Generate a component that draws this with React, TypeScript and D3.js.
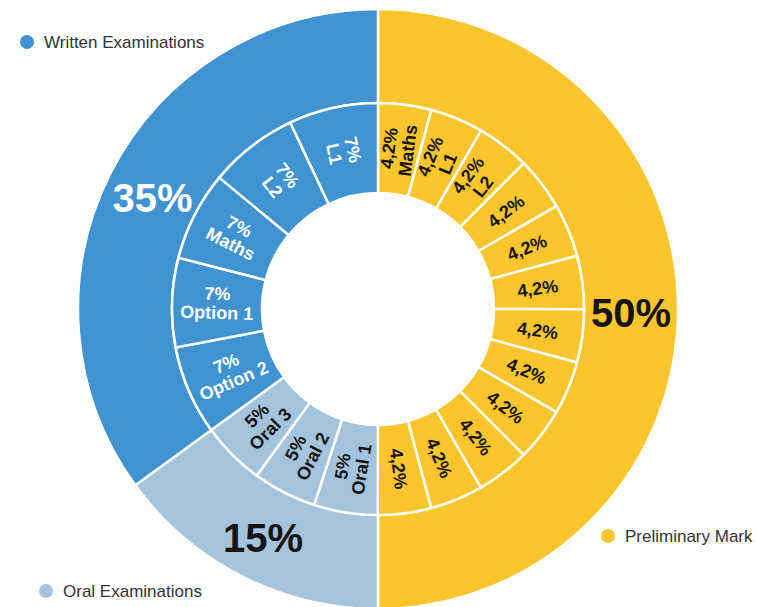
import React, { useEffect, useRef } from "react";
import * as d3 from "d3";

// outer ring: exam groups, clockwise from 12 o'clock
const groupNames = ["Preliminary Mark", "Oral Examinations", "Written Examinations"];
const groupShares = [50, 15, 35];
const groupLabels = ["50%", "15%", "35%"];
const groupColors = ["#fcc52b", "#a3c4dc", "#3f93d0"];

// inner ring: subjects, same clockwise order
const subjectGroup = [
  0, 0, 0, 0, 0, 0, 0, 0, 0, 0, 0, 0,
  1, 1, 1,
  2, 2, 2, 2, 2,
];
const subjectNames = [
  "Maths", "L1", "L2", "", "", "", "", "", "", "", "", "",
  "Oral 1", "Oral 2", "Oral 3",
  "Option 2", "Option 1", "Maths", "L2", "L1",
];
const subjectShares = [
  4.17, 4.17, 4.17, 4.17, 4.17, 4.17, 4.17, 4.17, 4.17, 4.17, 4.17, 4.17,
  5, 5, 5,
  7, 7, 7, 7, 7,
];
const subjectLabels = [
  "4,2%", "4,2%", "4,2%", "4,2%", "4,2%", "4,2%", "4,2%", "4,2%", "4,2%", "4,2%", "4,2%", "4,2%",
  "5%", "5%", "5%",
  "7%", "7%", "7%", "7%", "7%",
];

// legend placement for each group
const legendPos: [number, number][] = [
  [608, 536],
  [46, 591],
  [27, 42],
];

const W = 758;
const H = 607;
const FONT = "'Liberation Sans', Arial, sans-serif";

const App: React.FC = () => {
  const svgRef = useRef<SVGSVGElement>(null);

  useEffect(() => {
    if (!svgRef.current) return;
    const svg = d3.select(svgRef.current);
    svg.selectAll("*").remove();

    const cx = 378;
    const cy = 309;
    const r0 = 116; // hole
    const r1 = 206; // inner ring outer edge
    const r2 = 300; // outer ring outer edge

    const g = svg.append("g").attr("transform", `translate(${cx},${cy})`);

    const pie = d3.pie<number>().value((d) => d).sort(null);

    // outer ring
    const outerArc = d3.arc<d3.PieArcDatum<number>>().innerRadius(r1).outerRadius(r2);
    const outer = pie(groupShares);
    g.selectAll(".outer")
      .data(outer)
      .enter()
      .append("path")
      .attr("d", outerArc)
      .attr("fill", (_, i) => groupColors[i])
      .attr("stroke", "#fff")
      .attr("stroke-width", 2.5);

    // inner ring
    const innerArc = d3.arc<d3.PieArcDatum<number>>().innerRadius(r0).outerRadius(r1);
    const inner = pie(subjectShares);
    g.selectAll(".inner")
      .data(inner)
      .enter()
      .append("path")
      .attr("d", innerArc)
      .attr("fill", (_, i) => groupColors[subjectGroup[i]])
      .attr("stroke", "#fff")
      .attr("stroke-width", 2.5);

    // outer labels, horizontal
    const outerLabelArc = d3
      .arc<d3.PieArcDatum<number>>()
      .innerRadius((r1 + r2) / 2)
      .outerRadius((r1 + r2) / 2);
    g.selectAll(".outer-label")
      .data(outer)
      .enter()
      .append("text")
      .attr("transform", (d) => `translate(${outerLabelArc.centroid(d)})`)
      .attr("text-anchor", "middle")
      .attr("dy", "0.45em")
      .style("font-family", FONT)
      .style("font-size", "40px")
      .style("font-weight", "bold")
      .style("fill", (_, i) => (i === 2 ? "#fff" : "#151515"))
      .text((_, i) => groupLabels[i]);

    // inner labels, rotated along the radius
    const innerLabelArc = d3
      .arc<d3.PieArcDatum<number>>()
      .innerRadius((r0 + r1) / 2)
      .outerRadius((r0 + r1) / 2);
    const labels = g
      .selectAll(".inner-label")
      .data(inner)
      .enter()
      .append("text")
      .attr("transform", (d) => {
        const mid = (((d.startAngle + d.endAngle) / 2) * 180) / Math.PI;
        const rot = mid < 180 ? mid - 90 : mid - 270;
        return `translate(${innerLabelArc.centroid(d)}) rotate(${rot})`;
      })
      .attr("text-anchor", "middle")
      .style("font-family", FONT)
      .style("font-size", "18px")
      .style("font-weight", "bold")
      .style("fill", (_, i) => (subjectGroup[i] === 2 ? "#fff" : "#151515"));

    labels.each(function (_, i) {
      const t = d3.select(this);
      const name = subjectNames[i];
      if (name) {
        t.append("tspan").attr("x", 0).attr("y", -4).text(subjectLabels[i]);
        t.append("tspan").attr("x", 0).attr("y", 15).text(name);
      } else {
        t.append("tspan").attr("x", 0).attr("y", 6.5).text(subjectLabels[i]);
      }
    });

    // legend
    const legend = svg
      .selectAll(".legend")
      .data(groupNames)
      .enter()
      .append("g")
      .attr("transform", (_, i) => `translate(${legendPos[i][0]},${legendPos[i][1]})`);
    legend
      .append("circle")
      .attr("r", 7)
      .attr("fill", (_, i) => groupColors[i]);
    legend
      .append("text")
      .attr("x", 17)
      .attr("dy", "0.35em")
      .style("font-family", FONT)
      .style("font-size", "17px")
      .style("fill", "#333")
      .text((d) => d);
  }, []);

  return (
    <svg
      ref={svgRef}
      width={W}
      height={H}
      style={{ position: "absolute", left: 0, top: 0, background: "#fff" }}
    />
  );
};

export default App;
